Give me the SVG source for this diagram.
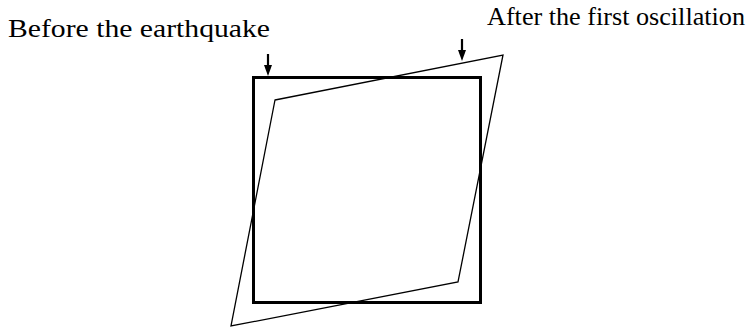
<svg xmlns="http://www.w3.org/2000/svg" width="750" height="329" viewBox="0 0 750 329">
<style>
.lbl{font-family:"Liberation Serif","DejaVu Serif",serif;font-size:25px;fill:#000}
.arr{stroke:#000;stroke-width:2.2;fill:none}
.head{fill:#000}
</style>
<rect width="750" height="329" fill="#fff"/>
<g id="before">
<rect x="253.5" y="77.5" width="227" height="225" fill="none" stroke="#000" stroke-width="3"/>
</g>
<g id="after">
<polygon points="275,100 503,55 458,282 231,326" fill="none" stroke="#000" stroke-width="1.3"/>
</g>
<g id="connectors">
<line x1="268" y1="54" x2="268" y2="66" class="arr"/>
<polygon class="head" points="264,65 272,65 268,76"/>
<line x1="462" y1="39" x2="462" y2="51" class="arr"/>
<polygon class="head" points="458,50 466,50 462,61"/>
</g>
<g id="labels">
<text class="lbl" x="8" y="37" textLength="262" lengthAdjust="spacingAndGlyphs">Before the earthquake</text>
<text class="lbl" x="487" y="25" textLength="258" lengthAdjust="spacingAndGlyphs">After the first oscillation</text>
</g>
</svg>
